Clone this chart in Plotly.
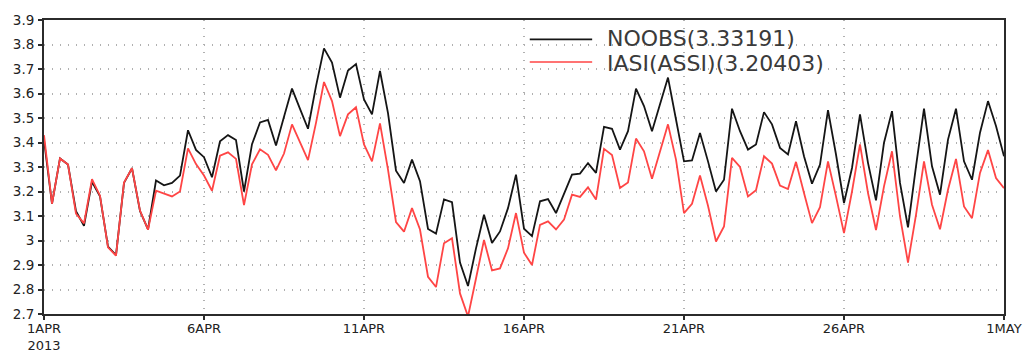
import pandas as pd
import plotly.graph_objects as go

# 6-hourly time axis, 1 Apr 2013 00UTC to 1 May 2013 00UTC
start = "2013-04-01 00:00"
freq = "6h"

noobs_name = "NOOBS(3.33191)"
noobs = [
    3.41, 3.15, 3.335, 3.31, 3.12, 3.06, 3.24, 3.18, 2.975, 2.94,
    3.235, 3.295, 3.12, 3.045, 3.245, 3.225, 3.235, 3.265, 3.45, 3.37,
    3.34, 3.258, 3.405, 3.43, 3.41, 3.20, 3.393, 3.482, 3.492, 3.388,
    3.505, 3.62, 3.537, 3.456, 3.63, 3.784, 3.726, 3.583, 3.694, 3.72,
    3.576, 3.515, 3.692, 3.52, 3.285, 3.235, 3.33, 3.242, 3.047, 3.028,
    3.168, 3.156, 2.91, 2.814, 2.968, 3.105, 2.99, 3.037, 3.132, 3.269,
    3.048, 3.018, 3.16, 3.169, 3.112, 3.187, 3.269, 3.273, 3.316, 3.276,
    3.464, 3.456, 3.371, 3.446, 3.62, 3.549, 3.446, 3.556, 3.665, 3.494,
    3.323, 3.327, 3.439, 3.323, 3.20, 3.248, 3.538, 3.446, 3.371, 3.392,
    3.524, 3.474, 3.378, 3.351, 3.487, 3.344, 3.232, 3.31, 3.532, 3.351,
    3.153, 3.296, 3.515, 3.317, 3.164, 3.399, 3.528, 3.235, 3.054, 3.303,
    3.538, 3.303, 3.187, 3.412, 3.538, 3.323, 3.248, 3.44, 3.569, 3.467,
    3.344,
]

iasi_name = "IASI(ASSI)(3.20403)"
iasi = [
    3.43, 3.15, 3.335, 3.31, 3.11, 3.07, 3.25, 3.183, 2.972, 2.938,
    3.237, 3.295, 3.122, 3.044, 3.203, 3.193, 3.18, 3.2, 3.376, 3.312,
    3.265, 3.203, 3.346, 3.36, 3.333, 3.145, 3.311, 3.372, 3.35, 3.286,
    3.355, 3.474, 3.40, 3.328, 3.48, 3.647, 3.569, 3.426, 3.515, 3.544,
    3.392, 3.323, 3.478, 3.289, 3.075, 3.036, 3.132, 3.045, 2.852, 2.81,
    2.989, 3.009, 2.784, 2.69, 2.845, 3.002, 2.878, 2.886, 2.968, 3.112,
    2.95, 2.90, 3.064, 3.078, 3.045, 3.085, 3.187, 3.178, 3.217, 3.167,
    3.374, 3.349, 3.214, 3.237, 3.416, 3.364, 3.252, 3.364, 3.474, 3.33,
    3.112, 3.15, 3.265, 3.142, 2.996, 3.057, 3.337, 3.30, 3.18, 3.205,
    3.344, 3.314, 3.224, 3.21, 3.321, 3.194, 3.071, 3.136, 3.323, 3.18,
    3.03, 3.2, 3.392, 3.194, 3.043, 3.221, 3.364, 3.098, 2.91, 3.105,
    3.323, 3.146, 3.046, 3.207, 3.333, 3.139, 3.091, 3.276, 3.369, 3.255,
    3.214,
]

tick_dates = ["2013-04-01", "2013-04-06", "2013-04-11", "2013-04-16",
              "2013-04-21", "2013-04-26", "2013-05-01"]
tick_text = ["1APR<br>2013", "6APR", "11APR", "16APR", "21APR", "26APR", "1MAY"]
y_ticks = [2.7, 2.8, 2.9, 3.0, 3.1, 3.2, 3.3, 3.4, 3.5, 3.6, 3.7, 3.8, 3.9]
y_text = ["2.7", "2.8", "2.9", "3", "3.1", "3.2", "3.3", "3.4", "3.5", "3.6", "3.7", "3.8", "3.9"]

times = pd.date_range(start, periods=len(noobs), freq=freq)

BLACK = "#151515"
RED = "#ff4545"
AXIS = "#2b2b2b"
FONT = "DejaVu Sans"

fig = go.Figure()
fig.add_trace(go.Scatter(x=times, y=noobs, mode="lines", name=noobs_name,
                         line=dict(color=BLACK, width=1.8), showlegend=False))
fig.add_trace(go.Scatter(x=times, y=iasi, mode="lines", name=iasi_name,
                         line=dict(color=RED, width=1.8), showlegend=False))

# key in the upper middle of the panel: sample line + label per series
key_rows = [(noobs_name, BLACK, 0.934, 0.937), (iasi_name, RED, 0.857, 0.852)]
for label, color, y_line, y_text_pos in key_rows:
    fig.add_shape(type="line", xref="paper", yref="paper",
                  x0=0.506, x1=0.571, y0=y_line, y1=y_line,
                  line=dict(color=color, width=1.6))
    fig.add_annotation(text=label, xref="paper", yref="paper",
                       x=0.584, y=y_text_pos, xanchor="left", yanchor="middle",
                       showarrow=False,
                       font=dict(family=FONT, size=22, color="#3a3a3a"))

fig.update_xaxes(
    range=[times[0], times[-1]],
    tickvals=pd.to_datetime(tick_dates), ticktext=tick_text,
    ticks="outside", ticklen=4, tickwidth=1.5, tickcolor=AXIS,
    ticklabelstandoff=-3,
    showline=True, linecolor=AXIS, linewidth=2, mirror=True,
    showgrid=True, gridcolor="#b0b0b0", gridwidth=1.5, griddash="1px,7px",
    tickfont=dict(family=FONT, size=13, color="#222"),
    zeroline=False, automargin=False,
)
fig.update_yaxes(
    range=[2.7, 3.9],
    tickvals=y_ticks, ticktext=y_text,
    ticks="outside", ticklen=4, tickwidth=1.5, tickcolor=AXIS,
    ticklabelstandoff=1,
    showline=True, linecolor=AXIS, linewidth=2, mirror=True,
    showgrid=True, gridcolor="#b0b0b0", gridwidth=1.5, griddash="1px,7px",
    tickfont=dict(family=FONT, size=13.5, color="#222"),
    zeroline=False, automargin=False,
)
fig.update_layout(
    width=1027, height=354,
    margin=dict(l=44, r=23, t=20, b=40),
    plot_bgcolor="white", paper_bgcolor="white",
)

fig.write_html("out.html")
